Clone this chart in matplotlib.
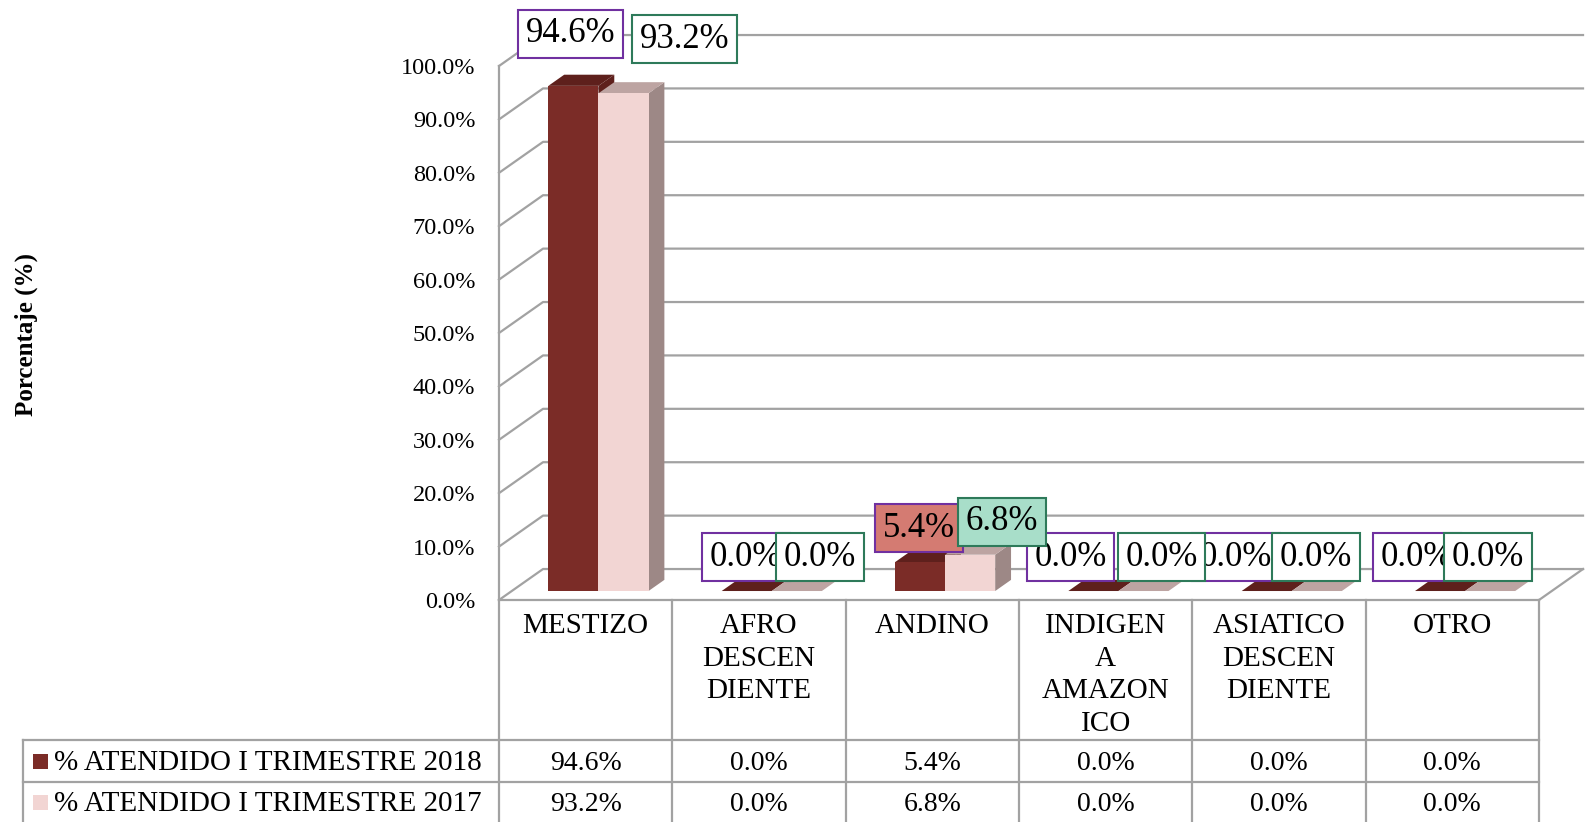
import matplotlib
matplotlib.use("Agg")
import matplotlib.pyplot as plt
import matplotlib.transforms as mtransforms
from matplotlib.patches import Polygon, Rectangle

plt.rcParams["font.family"] = ["Liberation Serif", "DejaVu Serif"]

# ---- data ----
categories = ["MESTIZO", "AFRO\nDESCEN\nDIENTE", "ANDINO",
              "INDIGEN\nA\nAMAZON\nICO", "ASIATICO\nDESCEN\nDIENTE", "OTRO"]
series_names = ["% ATENDIDO I TRIMESTRE 2018", "% ATENDIDO I TRIMESTRE 2017"]
pct_2018 = [94.6, 0.0, 5.4, 0.0, 0.0, 0.0]
pct_2017 = [93.2, 0.0, 6.8, 0.0, 0.0, 0.0]
y_ticks = [0, 10, 20, 30, 40, 50, 60, 70, 80, 90, 100]

# ---- styling ----
FRONT = ["#7B2C27", "#F2D5D3"]
TOP = ["#5E201C", "#BDA4A2"]
SIDE = ["#5E201C", "#9D8886"]
GRID = "#A2A2A2"
LABEL_EDGE = ["#7030A0", "#2E7A5A"]
label_fill = [["white", "white", "#D47B72", "white", "white", "white"],
              ["white", "white", "#A8DEC9", "white", "white", "white"]]
# label offsets from the bar's front-top centre, in pixels
label_off = [[(-3, 52), (-1, 34), (-1, 34), (-23, 34), (-31, 34), (-23, 34)],
             [(61, 54), (23, 34), (32, 33), (18, 34), (-1, 34), (-2, 34)]]

W_PX, H_PX = 1586, 822
AX_L, AX_R, AX_B, AX_T = 499, 1539, 600, 66   # pixel box of the front plane

DX, DY = 0.254, 5.8     # depth of the 3D box (category units, %)
F0, F1 = 0.29, 0.65     # bar front / back position inside the depth
BW = 0.289              # bar width

fig = plt.figure(figsize=(W_PX / 100, H_PX / 100), dpi=100)
ax = fig.add_axes([AX_L / W_PX, (H_PX - AX_B) / H_PX,
                   (AX_R - AX_L) / W_PX, (AX_B - AX_T) / H_PX])
ax.set_xlim(0, len(categories))
ax.set_ylim(0, 100)
ax.patch.set_alpha(0)

# back wall / side wall gridlines
n = len(categories)
for v in y_ticks:
    ax.plot([0, DX, n + DX], [v, v + DY, v + DY], color=GRID, lw=1.6,
            clip_on=False, zorder=1)
ax.plot([n, n + DX], [0, DY], color=GRID, lw=1.6, clip_on=False, zorder=1)

# 3D-looking bars
for i in range(n):
    for s, vals in enumerate([pct_2018, pct_2017]):
        v = vals[i]
        x0 = i + 0.5 - BW + s * BW + F0 * DX
        x1 = x0 + BW
        y0 = F0 * DY
        y1 = v + y0
        bx, by = (F1 - F0) * DX, (F1 - F0) * DY
        side = [(x1, y0), (x1, y1), (x1 + bx, y1 + by), (x1 + bx, y0 + by)]
        top = [(x0, y1), (x1, y1), (x1 + bx, y1 + by), (x0 + bx, y1 + by)]
        ax.add_patch(Polygon(side, closed=True, fc=SIDE[s], ec="none", zorder=3, clip_on=False))
        ax.add_patch(Polygon(top, closed=True, fc=TOP[s], ec="none", zorder=3, clip_on=False))
        ax.add_patch(Rectangle((x0, y0), BW, v, fc=FRONT[s], ec="none", zorder=3, clip_on=False))

        dx, dy = label_off[s][i]
        ax.annotate(f"{v:.1f}%", xy=(x0 + BW / 2, y1), xytext=(dx, dy),
                    textcoords="offset pixels", ha="center", va="center",
                    fontsize=25, zorder=6 + s, annotation_clip=False,
                    bbox=dict(boxstyle="square,pad=0.22", fc=label_fill[s][i],
                              ec=LABEL_EDGE[s], lw=1.5))

# axes styling
for side_name in ["top", "right"]:
    ax.spines[side_name].set_visible(False)
for side_name in ["left", "bottom"]:
    ax.spines[side_name].set_color(GRID)
    ax.spines[side_name].set_linewidth(1.6)
ax.set_xticks([])
ax.set_yticks(y_ticks)
ax.set_yticklabels([f"{t:.1f}%" for t in y_ticks])
ax.tick_params(axis="y", length=0, pad=17, labelsize=17.5)

fig.text(26 / W_PX, 1 - 334 / H_PX, "Porcentaje (%)", rotation=90,
         fontweight="bold", fontsize=18, ha="center", va="center")

# ---- data table under the chart ----
trans = mtransforms.blended_transform_factory(ax.transData, ax.transAxes)
col_w = (AX_R - AX_L) / n


def ay(py):
    return (AX_B - py) / (AX_B - AX_T)


def axx(px):
    return (px - AX_L) / col_w


row_lines = [740, 782]
left_x = axx(23)
for i in range(n + 1):
    ax.plot([i, i], [ay(AX_B), ay(H_PX)], color=GRID, lw=1.6,
            transform=trans, clip_on=False)
ax.plot([left_x, left_x], [ay(row_lines[0]), ay(H_PX)], color=GRID, lw=1.6,
        transform=trans, clip_on=False)
for py in row_lines:
    ax.plot([left_x, n], [ay(py), ay(py)], color=GRID, lw=1.6,
            transform=trans, clip_on=False)

for i, cat in enumerate(categories):
    ax.text(i + 0.5, ay(613), cat, ha="center", va="top", fontsize=21,
            linespacing=1.33, transform=trans)

row_centers = [763, 804]
for r, vals in enumerate([pct_2018, pct_2017]):
    yc = ay(row_centers[r])
    for i, v in enumerate(vals):
        ax.text(i + 0.5, yc, f"{v:.1f}%", ha="center", va="center",
                fontsize=20, transform=trans)
    ax.add_patch(Rectangle((axx(33), ay(row_centers[r] + 6)), 15 / col_w,
                           15 / (AX_B - AX_T), fc=FRONT[r], ec="none",
                           transform=trans, clip_on=False))
    ax.text(axx(54), yc, series_names[r], ha="left", va="center",
            fontsize=21, transform=trans)

fig.savefig("out.png", dpi=100)
